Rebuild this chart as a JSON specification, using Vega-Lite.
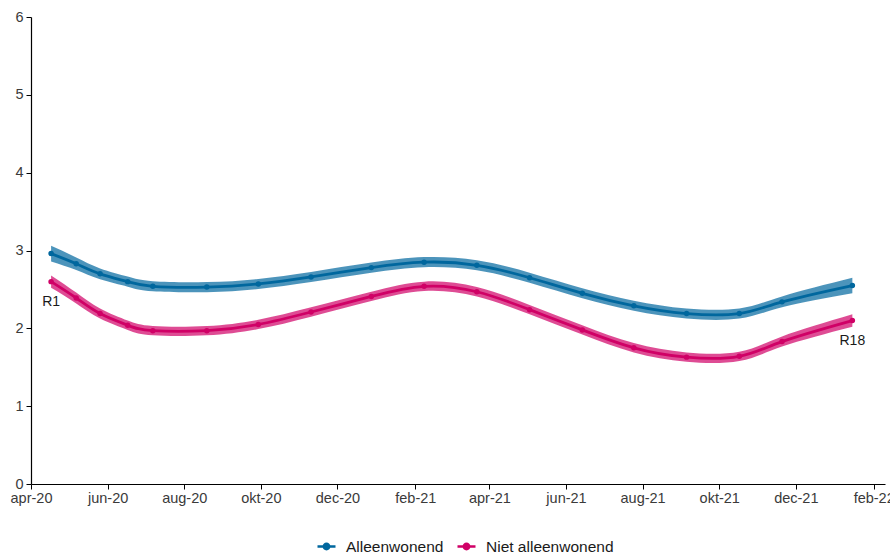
{
  "$schema": "https://vega.github.io/schema/vega-lite/v6.json",
  "autosize": {"type": "none"},
  "padding": {"left": 31, "top": 17, "right": 5, "bottom": 71},
  "width": 854,
  "height": 467,
  "background": "white",
  "config": {
    "view": {"stroke": null},
    "font": "Liberation Sans",
    "axis": {"domainColor": "#000000", "tickColor": "#000000", "labelColor": "#3a3a3a", "labelFontSize": 14.5, "grid": false, "title": null, "tickSize": 5, "domainWidth": 1.2, "tickWidth": 1}
  },
  "data": {"values": [
    {"date": "2020-04-17", "group": "Alleenwonend", "value": 2.96, "lo": 2.86, "hi": 3.06, "label": ""},
    {"date": "2020-05-07", "group": "Alleenwonend", "value": 2.83, "lo": 2.75, "hi": 2.91, "label": ""},
    {"date": "2020-05-26", "group": "Alleenwonend", "value": 2.70, "lo": 2.63, "hi": 2.77, "label": ""},
    {"date": "2020-06-17", "group": "Alleenwonend", "value": 2.60, "lo": 2.535, "hi": 2.665, "label": ""},
    {"date": "2020-07-07", "group": "Alleenwonend", "value": 2.54, "lo": 2.475, "hi": 2.605, "label": ""},
    {"date": "2020-08-19", "group": "Alleenwonend", "value": 2.53, "lo": 2.465, "hi": 2.595, "label": ""},
    {"date": "2020-09-29", "group": "Alleenwonend", "value": 2.57, "lo": 2.505, "hi": 2.635, "label": ""},
    {"date": "2020-11-10", "group": "Alleenwonend", "value": 2.66, "lo": 2.595, "hi": 2.725, "label": ""},
    {"date": "2020-12-28", "group": "Alleenwonend", "value": 2.78, "lo": 2.715, "hi": 2.845, "label": ""},
    {"date": "2021-02-08", "group": "Alleenwonend", "value": 2.85, "lo": 2.785, "hi": 2.915, "label": ""},
    {"date": "2021-03-22", "group": "Alleenwonend", "value": 2.81, "lo": 2.745, "hi": 2.875, "label": ""},
    {"date": "2021-05-03", "group": "Alleenwonend", "value": 2.65, "lo": 2.585, "hi": 2.715, "label": ""},
    {"date": "2021-06-14", "group": "Alleenwonend", "value": 2.45, "lo": 2.385, "hi": 2.515, "label": ""},
    {"date": "2021-07-25", "group": "Alleenwonend", "value": 2.29, "lo": 2.225, "hi": 2.355, "label": ""},
    {"date": "2021-09-05", "group": "Alleenwonend", "value": 2.19, "lo": 2.125, "hi": 2.255, "label": ""},
    {"date": "2021-10-17", "group": "Alleenwonend", "value": 2.19, "lo": 2.125, "hi": 2.255, "label": ""},
    {"date": "2021-11-20", "group": "Alleenwonend", "value": 2.34, "lo": 2.27, "hi": 2.41, "label": ""},
    {"date": "2022-01-15", "group": "Alleenwonend", "value": 2.55, "lo": 2.45, "hi": 2.65, "label": ""},
    {"date": "2020-04-17", "group": "Niet alleenwonend", "value": 2.60, "lo": 2.52, "hi": 2.68, "label": "R1"},
    {"date": "2020-05-07", "group": "Niet alleenwonend", "value": 2.39, "lo": 2.32, "hi": 2.46, "label": ""},
    {"date": "2020-05-26", "group": "Niet alleenwonend", "value": 2.19, "lo": 2.125, "hi": 2.255, "label": ""},
    {"date": "2020-06-17", "group": "Niet alleenwonend", "value": 2.04, "lo": 1.98, "hi": 2.10, "label": ""},
    {"date": "2020-07-07", "group": "Niet alleenwonend", "value": 1.97, "lo": 1.91, "hi": 2.03, "label": ""},
    {"date": "2020-08-19", "group": "Niet alleenwonend", "value": 1.97, "lo": 1.91, "hi": 2.03, "label": ""},
    {"date": "2020-09-29", "group": "Niet alleenwonend", "value": 2.05, "lo": 1.99, "hi": 2.11, "label": ""},
    {"date": "2020-11-10", "group": "Niet alleenwonend", "value": 2.21, "lo": 2.15, "hi": 2.27, "label": ""},
    {"date": "2020-12-28", "group": "Niet alleenwonend", "value": 2.41, "lo": 2.35, "hi": 2.47, "label": ""},
    {"date": "2021-02-08", "group": "Niet alleenwonend", "value": 2.54, "lo": 2.48, "hi": 2.60, "label": ""},
    {"date": "2021-03-22", "group": "Niet alleenwonend", "value": 2.47, "lo": 2.41, "hi": 2.53, "label": ""},
    {"date": "2021-05-03", "group": "Niet alleenwonend", "value": 2.24, "lo": 2.18, "hi": 2.30, "label": ""},
    {"date": "2021-06-14", "group": "Niet alleenwonend", "value": 1.98, "lo": 1.92, "hi": 2.04, "label": ""},
    {"date": "2021-07-25", "group": "Niet alleenwonend", "value": 1.75, "lo": 1.69, "hi": 1.81, "label": ""},
    {"date": "2021-09-05", "group": "Niet alleenwonend", "value": 1.63, "lo": 1.57, "hi": 1.69, "label": ""},
    {"date": "2021-10-17", "group": "Niet alleenwonend", "value": 1.64, "lo": 1.58, "hi": 1.70, "label": ""},
    {"date": "2021-11-20", "group": "Niet alleenwonend", "value": 1.83, "lo": 1.765, "hi": 1.895, "label": ""},
    {"date": "2022-01-15", "group": "Niet alleenwonend", "value": 2.10, "lo": 2.02, "hi": 2.18, "label": "R18"}
  ]},
  "encoding": {
    "x": {
      "field": "date", "type": "temporal",
      "scale": {"type": "utc", "domain": [{"year": 2020, "month": 4, "date": 1, "utc": true}, {"year": 2022, "month": 2, "date": 10, "utc": true}]},
      "axis": {
        "values": [
          {"year": 2020, "month": 4, "date": 1, "utc": true},
          {"year": 2020, "month": 6, "date": 1, "utc": true},
          {"year": 2020, "month": 8, "date": 1, "utc": true},
          {"year": 2020, "month": 10, "date": 1, "utc": true},
          {"year": 2020, "month": 12, "date": 1, "utc": true},
          {"year": 2021, "month": 2, "date": 1, "utc": true},
          {"year": 2021, "month": 4, "date": 1, "utc": true},
          {"year": 2021, "month": 6, "date": 1, "utc": true},
          {"year": 2021, "month": 8, "date": 1, "utc": true},
          {"year": 2021, "month": 10, "date": 1, "utc": true},
          {"year": 2021, "month": 12, "date": 1, "utc": true},
          {"year": 2022, "month": 2, "date": 1, "utc": true}
        ],
        "labelExpr": "['jan','feb','mrt','apr','mei','jun','jul','aug','sep','okt','nov','dec'][utcmonth(datum.value)] + '-' + utcFormat(datum.value, '%y')",
        "labelPadding": 2,
        "labelOverlap": false,
        "labelBound": false,
        "labelFlush": false
      }
    }
  },
  "layer": [
    {
      "mark": {"type": "area", "interpolate": "natural", "opacity": 0.7},
      "encoding": {
        "y": {"field": "lo", "type": "quantitative", "scale": {"domain": [0, 6]}, "axis": {"values": [0,1,2,3,4,5,6], "format": "d", "labelPadding": 3}},
        "y2": {"field": "hi"},
        "color": {
          "field": "group", "type": "nominal",
          "scale": {"domain": ["Alleenwonend", "Niet alleenwonend"], "range": ["#00679e", "#d00066"]},
          "legend": {
            "title": null,
            "orient": "none",
            "direction": "horizontal",
            "legendX": 285,
            "legendY": 519,
            "labelFontSize": 15.5,
            "labelColor": "#1a1a1a",
            "symbolType": "M-1,0L1,0M-0.3,0a0.3,0.3 0 1,0 0.6,0a0.3,0.3 0 1,0 -0.6,0",
            "symbolSize": 324,
            "symbolStrokeWidth": 2.5,
            "symbolOpacity": 1,
            "columnPadding": 8,
            "labelOffset": 9,
            "encode": {"symbols": {"update": {"fill": {"scale": "color", "field": "value"}, "stroke": {"scale": "color", "field": "value"}, "opacity": {"value": 1}}}}
          }
        }
      }
    },
    {
      "mark": {"type": "line", "interpolate": "natural", "strokeWidth": 2.8},
      "encoding": {
        "y": {"field": "value", "type": "quantitative"},
        "color": {"field": "group", "type": "nominal"}
      }
    },
    {
      "mark": {"type": "point", "filled": true, "size": 30, "opacity": 1},
      "encoding": {
        "y": {"field": "value", "type": "quantitative"},
        "color": {"field": "group", "type": "nominal"}
      }
    },
    {
      "mark": {"type": "text", "dy": 20, "fontSize": 14, "color": "#1a1a1a"},
      "encoding": {
        "y": {"field": "value", "type": "quantitative"},
        "text": {"field": "label"}
      }
    }
  ]
}
